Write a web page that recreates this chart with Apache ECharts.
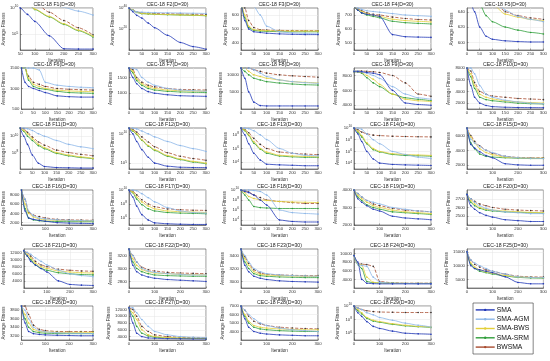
<!DOCTYPE html>
<html><head><meta charset="utf-8">
<script src="https://cdn.jsdelivr.net/npm/echarts@6/dist/echarts.min.js"></script>
<style>html,body{margin:0;padding:0;background:#fff}#c{width:550px;height:361px}</style>
</head><body><div id="c"></div>
<script>
const seriesNames = ['SMA','SMA-AGM','SMA-BWS','SMA-SRM','BWSMA'];
const iters = [0,15,30,50,75,100,150,200,250,300];

// each panel: [SMA, SMA-AGM, SMA-BWS, SMA-SRM, BWSMA]
const F1 = [[1e11,1e11,1e11,1e10,6e8,2.8e7,5e4,1.7e2,1.5e2,1.5e2],[1e11,1e11,1e11,1e11,1e11,1e11,1e11,1.3e10,2.5e9,4.4e8],[1e11,1e11,1e11,1e11,1e11,6e9,2.5e8,1e7,6e5,4.4e4],[1e11,1e11,1e11,1e11,1e11,5e9,2e8,7.6e6,4.8e5,3e4],[1e11,1e11,1e11,1e11,1e11,1e11,1.6e9,4e7,1.7e6,7.6e4]];
const F2 = [[1e40,3e36,1e33,2.5e30,4e25,1.6e21,1e14,1.6e7,1.6e3,6],[6e39,6e37,2e36,1e36,6e35,4e35,2.5e35,1.6e35,1e35,6e34],[4e39,1e38,1e36,6e34,3e34,1e34,6e33,2.5e33,1.3e33,6e32],[3e39,6e37,6e35,4e34,2e34,8e33,4e33,2e33,1e33,4e32],[5e39,1e38,2e36,1.5e35,8e34,5e34,3e34,2e34,1.2e34,8e33]];
const F3 = [[700,560,500,480,475,470,465,462,460,460],[700,700,690,660,600,520,480,472,468,465],[700,600,520,495,490,488,486,485,485,485],[700,580,510,490,485,483,481,480,480,480],[700,650,560,510,495,492,490,489,488,488]];
const F4 = [[760,735,715,705,700,690,560,545,542,540],[760,750,740,730,725,720,710,700,695,690],[760,740,725,710,700,690,670,660,655,650],[760,735,715,700,690,680,655,645,640,636],[760,745,730,715,705,700,685,675,668,664]];
const F5 = [[700,650,640,620,608,604,602,601,600.5,600.5],[700,700,700,700,690,665,642,634,630,627],[700,700,700,700,680,650,637,633,630,628],[700,700,680,650,635,627,620,616,613,611],[700,700,700,700,690,660,640,635,632,630]];
const F6 = [[1500,1150,1050,1000,950,900,820,800,790,790],[1500,1500,1500,1500,1450,1150,1080,1050,1030,1020],[1500,1500,1250,1100,1050,1000,960,940,930,920],[1500,1500,1200,1050,1000,980,930,900,890,880],[1500,1500,1300,1150,1100,1050,1000,980,970,960]];
const F7 = [[1800,1500,1300,1150,1050,1000,950,920,910,900],[1800,1800,1750,1500,1350,1250,1150,1100,1080,1060],[1800,1700,1450,1300,1200,1150,1100,1080,1070,1060],[1800,1650,1400,1250,1150,1100,1060,1040,1030,1020],[1800,1750,1500,1350,1250,1200,1150,1120,1110,1100]];
const F8 = [[12000,9000,5000,2000,1000,900,900,900,900,900],[12000,12000,12000,11500,10500,9500,8500,8000,7700,7500],[12000,12000,11000,10000,9500,9000,8500,8000,7800,7600],[12000,11000,10000,9000,8500,8000,7600,7300,7100,7000],[12000,12000,12000,11500,11000,10500,10000,9700,9500,9300]];
const F9 = [[8500,8500,8500,8400,8300,8100,6000,4300,4100,4000],[8600,8600,8500,8300,8000,7600,6500,5500,5000,4800],[8500,8500,8400,8000,7500,6800,5500,4800,4600,4500],[8500,8500,8300,7700,7000,6500,5500,5000,4800,4600],[8600,8600,8600,8550,8500,8400,8000,7000,5500,5200]];
const F10 = [[8000,5000,3000,2000,1600,1400,1300,1250,1230,1220],[8000,8000,7000,5000,3500,3000,2500,2200,2000,1900],[8000,7000,5000,3500,3000,2700,2400,2200,2100,2000],[8000,6500,4500,3000,2600,2400,2200,2000,1900,1850],[8000,7500,5500,4000,3500,3200,3000,2800,2700,2600]];
const F11 = [[1e11,1e10,1e9,5e7,5e6,2e6,1.5e6,1.4e6,1.3e6,1.3e6],[1e11,1e11,8e10,5e10,2e10,1e10,3e9,1e9,5e8,3e8],[1e11,5e10,2e10,5e9,1e9,4e8,1e8,5e7,3e7,2e7],[1e11,4e10,1e10,3e9,7e8,3e8,8e7,4e7,2.5e7,1.8e7],[1e11,8e10,3e10,8e9,2e9,8e8,2e8,1e8,6e7,4e7]];
const F12 = [[1e11,1e10,5e8,2e7,1e6,1e5,3e4,2e4,1.8e4,1.7e4],[1e11,1e11,7e10,3e10,1e10,3e9,5e8,1e8,3e7,1e7],[1e11,4e10,1e10,1e9,1e8,2e7,2e6,5e5,2e5,1e5],[1e11,3e10,8e9,8e8,8e7,1.5e7,1.5e6,4e5,1.5e5,8e4],[1e11,6e10,2e10,3e9,4e8,6e7,6e6,1.5e6,6e5,3e5]];
const F13 = [[1e9,1e8,5e6,2e5,2e4,5e3,4e3,3.5e3,3e3,3e3],[1e9,1e9,8e8,4e8,1e8,2e7,1e6,2e5,1e5,8e4],[1e9,5e8,1e8,1e7,1e6,3e5,1e5,8e4,7e4,6e4],[1e9,4e8,8e7,6e6,8e5,2e5,8e4,6e4,5e4,5e4],[1e9,6e8,2e8,3e7,4e6,1e6,3e5,2e5,1.5e5,1.2e5]];
const F14 = [[1e10,1e9,5e7,1e6,5e4,1e4,6e3,5e3,4.5e3,4e3],[1e10,1e10,6e9,1e9,1e8,2e7,1e6,3e5,1e5,6e4],[1e10,3e9,5e8,3e7,3e6,1e6,4e5,3e5,2.5e5,2e5],[1e10,2e9,3e8,2e7,2e6,8e5,3e5,2e5,1.8e5,1.5e5],[1e10,5e9,2e9,1e9,6e8,5e8,4e8,3.5e8,3.2e8,3e8]];
const F15 = [[7000,4800,4300,3800,3300,3000,2200,2050,2000,2000],[7000,5500,5000,4500,4000,3700,3200,3000,2950,2900],[7000,5800,5000,4200,3700,3400,3100,3000,2950,2950],[7000,5000,4200,3500,3200,3100,3000,2950,2900,2900],[7000,6000,5200,4600,4000,3600,3200,3050,3000,3000]];
const F16 = [[9000,4500,3000,2700,2500,2300,2000,1900,1850,1800],[9000,7000,4500,3500,3000,2800,2600,2500,2450,2400],[9000,6000,4000,3200,2800,2600,2500,2450,2400,2400],[9000,5000,3000,2600,2400,2300,2250,2200,2200,2200],[9000,7000,4200,3600,3300,3000,2700,2600,2550,2500]];
const F17 = [[1e10,1e9,5e7,3e6,5e5,2e5,1.5e5,1.3e5,1.2e5,1.2e5],[1e10,1e10,8e9,3e9,8e8,2e8,3e7,1e7,6e6,5e6],[1e10,5e9,1e9,2e8,5e7,2e7,1e7,8e6,7e6,6e6],[1e10,4e9,5e8,8e7,2e7,1e7,6e6,5e6,4.5e6,4e6],[1e10,7e9,2e9,4e8,1e8,4e7,2e7,1.5e7,1.3e7,1.2e7]];
const F18 = [[1e10,5e9,3e9,1e9,1e8,1e7,1e4,5e3,4e3,4e3],[1e10,1e10,1e10,8e9,5e9,1e9,1e6,3e5,2e5,1.5e5],[1e10,3e9,5e8,2e8,1e8,8e7,5e7,4e7,3.5e7,3e7],[1e10,1e9,1e8,5e6,3e6,2.5e6,2e6,2e6,2e6,2e6],[1e10,8e9,4e9,1e9,3e8,1e8,5e7,3e7,2e7,2e7]];
const F19 = [[4000,3500,3300,3100,2900,2800,2500,2400,2350,2300],[4000,3800,3600,3400,3300,3200,3000,2900,2800,2750],[4000,3700,3500,3300,3100,3000,2850,2750,2700,2650],[4000,3600,3400,3150,3000,2900,2750,2700,2650,2600],[4000,3800,3600,3400,3200,3100,2950,2850,2800,2750]];
const F20 = [[2750,2620,2580,2540,2510,2490,2460,2450,2440,2440],[2750,2700,2660,2620,2590,2570,2550,2540,2530,2530],[2750,2680,2640,2600,2580,2570,2560,2550,2545,2540],[2750,2660,2620,2590,2570,2560,2550,2545,2540,2535],[2750,2700,2670,2640,2620,2600,2580,2570,2565,2560]];
const F21 = [[12500,11000,9500,8500,7500,6500,4000,3000,2800,2700],[12500,12000,11500,10500,9500,8500,7000,6000,5500,5200],[12500,11500,10500,9000,8000,7500,6800,6500,6300,6200],[12500,11000,10000,8500,7500,7000,6300,6000,5800,5700],[12500,12000,11000,9500,8500,8000,7300,7000,6800,6700]];
const F22 = [[3300,3050,2950,2900,2870,2850,2830,2820,2810,2800],[3300,3200,3100,3000,2960,2940,2920,2910,2900,2900],[3300,3150,3050,2980,2950,2930,2920,2910,2905,2900],[3300,3100,3000,2950,2920,2900,2890,2885,2880,2880],[3300,3200,3100,3020,2980,2960,2940,2930,2925,2920]];
const F23 = [[3500,3250,3150,3080,3050,3030,3010,3000,2995,2990],[3500,3400,3300,3200,3150,3120,3100,3090,3085,3080],[3500,3350,3250,3150,3110,3100,3090,3085,3080,3080],[3500,3300,3200,3120,3090,3080,3070,3065,3060,3060],[3500,3380,3280,3180,3130,3110,3100,3095,3090,3090]];
const F24 = [[9500,8000,4000,3100,3000,2950,2950,2950,2950,2950],[9500,7500,7200,7000,4500,3300,3100,3050,3000,3000],[9500,7500,7300,4500,3300,3200,3100,3050,3050,3050],[9500,7400,6500,3500,3200,3150,3100,3050,3050,3050],[9500,7600,7500,7400,7000,3500,3200,3100,3100,3100]];
const F25 = [[15000,10000,9000,8500,8000,7500,6000,4000,3500,3500],[15000,12000,11000,10000,9000,8000,7000,6000,5800,5700],[15000,11000,9500,8500,7800,7300,6500,6000,5800,5700],[15000,10500,9000,8000,7500,7000,6300,5800,5600,5500],[15000,12000,10500,9500,8500,8000,7000,6200,6000,5900]];
const F26 = [[3900,3500,3300,3250,3230,3220,3210,3205,3200,3200],[3900,3800,3600,3400,3320,3290,3270,3260,3255,3250],[3900,3700,3500,3350,3300,3290,3280,3280,3280,3280],[3900,3600,3400,3300,3270,3260,3250,3250,3250,3250],[3900,3900,3700,3450,3350,3320,3300,3300,3300,3300]];
const F27 = [[12500,8000,5000,4000,3600,3500,3400,3350,3300,3300],[12500,12500,11000,9000,7000,5500,4500,4000,3800,3700],[12500,11000,9000,6000,4500,4000,3700,3600,3550,3500],[12500,10000,7000,5000,4200,3800,3600,3500,3450,3400],[12500,12000,10000,7000,5500,4500,4000,3800,3700,3600]];
const F28 = [[7000,5500,4500,4000,3800,3700,3600,3550,3500,3500],[7000,6500,6000,5500,5000,4700,4400,4200,4100,4000],[7000,6000,5200,4700,4500,4400,4300,4250,4200,4200],[7000,5800,5000,4500,4300,4200,4100,4050,4000,4000],[7000,6500,5800,5200,4900,4700,4500,4400,4350,4300]];
const F29 = [[1e10,1e9,3e8,5e7,1e7,5e6,2e6,1e6,8e5,7e5],[1e10,5e9,3e9,1e9,5e8,2e8,8e7,3e7,1.5e7,8e6],[1e10,3e9,1e9,2e8,8e7,5e7,2.5e7,1.5e7,1e7,8e6],[1e10,2e9,7e8,1.5e8,6e7,4e7,2e7,1.2e7,9e6,7e6],[1e10,5e9,3e9,2e9,1.5e9,1.3e9,1.2e9,1.1e9,1.1e9,1.1e9]];

const panels = [F1,F2,F3,F4,F5,F6,F7,F8,F9,F10,F11,F12,F13,F14,F15,F16,F17,F18,F19,F20,F21,F22,F23,F24,F25,F26,F27,F28,F29];
const titles = panels.map((_, i) => 'CEC-18 F' + (i + 1) + '(D=30)');

// y axis scales per panel
const yType = ['log','log','value','value','value','value','value','value','value','value','log','log','log','log','value','value','log','log','value','value','value','value','value','value','value','value','value','value','log'];
const yMin = [1e2,1e0,350,450,590,500,500,0,3500,1000,1e6,1e4,1e3,1e3,1500,1500,1e5,1e3,2000,2400,2000,2700,2900,2000,2000,3100,3000,3000,1e5];
const yMax = [1e10,1e40,650,750,645,1500,1800,12000,9000,8000,1e11,1e11,1e9,1e10,7000,9000,1e10,1e10,4000,2800,13000,3300,3500,11000,16000,3900,13000,7000,1e10];
const yTicks = [[1e5,1e10],[1e20,1e40],[400,500,600],[500,600,700],[600,620,640],[500,1000,1500],[1000,1500],[5000,10000],[4000,6000,8000],[2000,4000,6000,8000],[1e8,1e10],[1e5,1e10],[1e4,1e6,1e8],[1e4,1e6,1e8,1e10],[2000,4000,6000],[2000,4000,6000,8000],[1e6,1e8,1e10],[1e4,1e6,1e8,1e10],[2000,3000,4000],[2500,2600,2700],[4000,6000,8000,10000,12000],[2800,3000,3200],[3000,3200,3400],[4000,6000,8000,10000],[5000,10000,15000],[3200,3400,3600,3800],[4000,6000,8000,10000,12000],[4000,5000,6000,7000],[1e6,1e8,1e10]];
const xMin = [50,0,0,0,0,0,0,0,0,0,0,0,0,0,0,0,0,0,0,0,0,0,0,0,0,0,0,0,0];
const xStep = [50,50,50,50,50,50,50,50,50,50,50,50,50,50,100,100,50,50,100,100,100,100,100,100,100,100,100,100,100];

const colors = ['#2238b8','#8cb6e8','#e3cf3a','#2f9e3a','#a84c30'];

// layout
const colL = [16,129,241,354,467];
const rowT = [8,68,128,190,249,306];
const rowH = [42,41,41,35,39,34];
const W = 77;

const grids = [], xAxes = [], yAxes = [], series = [], graphics = [];
panels.forEach((P, i) => {
  const c = i % 5, r = Math.floor(i / 5);
  grids.push({left: colL[c], top: rowT[r], width: W, height: rowH[r], show: true, borderColor: '#444', borderWidth: 0.6, backgroundColor: '#fff'});
  xAxes.push({type: 'value', gridIndex: i, min: xMin[i], max: 300, interval: xStep[i],
    name: 'Iteration', nameLocation: 'middle', nameGap: 8, nameTextStyle: {fontSize: 4.6, color: '#333'},
    axisLine: {show: true, lineStyle: {color: '#444', width: 0.6}},
    axisTick: {show: true, inside: true, length: 1.5, lineStyle: {color: '#444', width: 0.5}},
    axisLabel: {fontSize: 4.3, color: '#333', margin: 2, showMinLabel: true, showMaxLabel: true, formatter: v => String(v)},
    splitLine: {show: true, lineStyle: {color: '#e4e4e4', width: 0.5}}});
  const isLog = yType[i] === 'log';
  const ya = {type: yType[i], gridIndex: i, min: yMin[i], max: yMax[i],
    name: 'Average Fitness', nameLocation: 'middle', nameGap: 11, nameTextStyle: {fontSize: 4.6, color: '#333'},
    axisLine: {show: true, lineStyle: {color: '#444', width: 0.6}},
    axisTick: {show: true, inside: true, length: 1.5, customValues: yTicks[i], lineStyle: {color: '#444', width: 0.5}},
    axisLabel: {fontSize: 4.3, color: '#333', margin: 2, customValues: yTicks[i], formatter: v => String(v)},
    splitLine: {show: true, lineStyle: {color: '#e4e4e4', width: 0.5}}};
  if (isLog) {
    ya.logBase = 10;
    ya.axisLabel.formatter = v => '10{s|' + Math.round(Math.log10(v)) + '}';
    ya.axisLabel.rich = {s: {fontSize: 3.2, verticalAlign: 'top', padding: [0, 0, 3, 0]}};
  }
  yAxes.push(ya);
  P.forEach((vals, k) => {
    series.push({type: 'line', name: seriesNames[k], xAxisIndex: i, yAxisIndex: i,
      data: iters.map((x, j) => [x, vals[j]]),
      smooth: 0.25, smoothMonotone: 'x', clip: true,
      symbol: 'circle', symbolSize: 1.6, showSymbol: true,
      lineStyle: {color: colors[k], width: 0.8, type: k === 4 ? 'dashed' : 'solid'},
      itemStyle: {color: k === 4 ? '#333' : colors[k]},
      z: 10 - k, animation: false});
  });
  graphics.push({type: 'text', x: colL[c] + W / 2, y: rowT[r] - 1,
    style: {text: titles[i], fontSize: 5.2, fill: '#222', align: 'center', verticalAlign: 'bottom', textAlign: 'center', textVerticalAlign: 'bottom'}});
});

const chart = echarts.init(document.getElementById('c'), null, {renderer: 'canvas'});
chart.setOption({
  animation: false,
  backgroundColor: '#fff',
  grid: grids, xAxis: xAxes, yAxis: yAxes, series: series,
  graphic: graphics,
  legend: {data: seriesNames.map((n, k) => ({name: n, itemStyle: {color: colors[k]}, lineStyle: {color: colors[k], width: 1.4, type: 'solid'}})),
    orient: 'vertical', left: 473, top: 303, height: 52, itemWidth: 19, itemHeight: 3, itemGap: 1.5,
    padding: [3, 4, 3, 2], borderColor: '#333', borderWidth: 0.6, backgroundColor: '#fff',
    textStyle: {fontSize: 6.8, lineHeight: 7.8, color: '#111', padding: [0, 0, 0, -3]}}
});
</script></body></html>
